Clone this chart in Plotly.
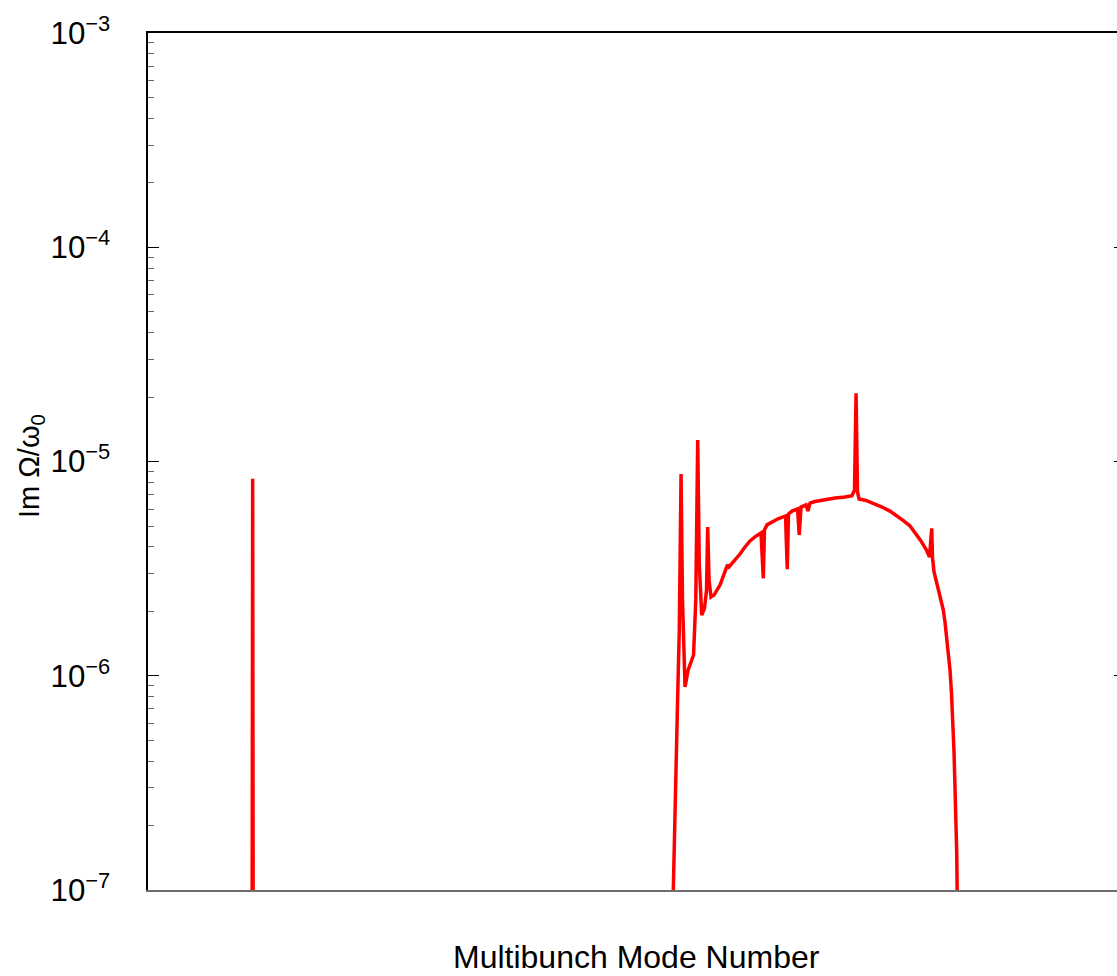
import plotly.graph_objects as go

# Multibunch mode number vs. growth rate Im(Omega)/omega0
mode_number = [
    107, 108, 109,
    541.4, 544.6, 546.6, 548.3, 550.1, 551.6, 554.2, 557.3, 561.1, 563.0,
    565.3, 567.3, 568.9, 571.4, 574.3, 576.4, 577.6, 579.0, 581.0, 584.1,
    590.3, 596.5, 598.0, 599.6, 605.8, 610.9, 616.1, 621.3, 626.4, 632.6,
    635.0, 636.2, 638.8, 644.0, 650.2, 657.9, 659.7, 661.0, 664.6, 670.3,
    672.1, 673.9, 679.1, 681.1, 683.2, 688.3, 698.7, 709.0, 719.3, 726.5,
    729.1, 730.7, 732.2, 733.8, 741.0, 748.2, 757.5, 765.7, 773.0, 780.2,
    786.4, 792.6, 797.7, 803.4, 806.5, 808.8, 809.6, 811.2, 813.2, 815.6,
    817.9, 820.7, 822.5, 824.2, 826.1, 827.7, 829.2, 830.5, 831.8, 832.8,
    833.9, 834.6, 835.4,
]
growth_rate = [
    1e-9, 8.3e-6, 1e-9,
    7.24e-8, 3.92e-7, 7.96e-7, 1.64e-6, 8.75e-6, 2.26e-6, 8.86e-7, 1.06e-6, 1.19e-6, 1.25e-6,
    2.26e-6, 1.26e-5, 3.36e-6, 1.92e-6, 2.07e-6, 2.51e-6, 4.94e-6, 2.80e-6, 2.33e-6, 2.38e-6,
    2.65e-6, 3.12e-6, 3.29e-6, 3.22e-6, 3.47e-6, 3.70e-6, 3.99e-6, 4.26e-6, 4.45e-6, 4.64e-6,
    2.85e-6, 4.79e-6, 5.06e-6, 5.23e-6, 5.40e-6, 5.57e-6, 3.14e-6, 5.69e-6, 5.87e-6, 6.00e-6,
    4.54e-6, 6.13e-6, 6.27e-6, 5.87e-6, 6.40e-6, 6.50e-6, 6.65e-6, 6.76e-6, 6.83e-6, 6.93e-6,
    7.36e-6, 2.08e-5, 7.21e-6, 6.68e-6, 6.58e-6, 6.40e-6, 6.13e-6, 5.87e-6, 5.57e-6, 5.27e-6,
    5.00e-6, 4.59e-6, 4.26e-6, 3.86e-6, 3.58e-6, 4.88e-6, 3.55e-6, 3.05e-6, 2.80e-6, 2.59e-6,
    2.33e-6, 2.03e-6, 1.78e-6, 1.52e-6, 1.29e-6, 1.06e-6, 8.30e-7, 6.21e-7, 4.41e-7, 3.03e-7,
    2.12e-7, 1.49e-7, 7.24e-8,
]

y_log_range = [-7, -3]
x_range = [0, 1000]

font = "Liberation Sans, Arial, sans-serif"

fig = go.Figure()
fig.add_trace(go.Scatter(
    x=mode_number, y=growth_rate, mode="lines",
    line=dict(color="#ff0000", width=3.5),
    showlegend=False, hoverinfo="skip",
))
# empty helper trace so the mirrored axes are drawn
fig.add_trace(go.Scatter(x=[], y=[], xaxis="x2", yaxis="y2", showlegend=False))

fig.update_layout(
    width=1117, height=976,
    margin=dict(l=148, r=0, t=33, b=86),
    paper_bgcolor="white", plot_bgcolor="white",
    font=dict(family=font, color="black", size=30),
    xaxis=dict(
        range=x_range, showgrid=False, zeroline=False,
        showline=True, linecolor="#6e6e6e", linewidth=1.5,
        ticks="", showticklabels=False,
    ),
    xaxis2=dict(
        range=x_range, overlaying="x", side="top", showgrid=False,
        zeroline=False, showline=True, linecolor="black", linewidth=1.5,
        ticks="", showticklabels=False,
    ),
    yaxis=dict(
        type="log", range=y_log_range, dtick=1, showgrid=False, zeroline=False,
        showline=True, linecolor="black", linewidth=1.5,
        ticks="inside", ticklen=11, tickwidth=1, tickcolor="black",
        exponentformat="power", showexponent="all",
        tickfont=dict(family=font, size=25, color="black"),
        ticklabelstandoff=31,
        minor=dict(ticks="inside", ticklen=6, tickwidth=1, tickcolor="#666666",
                   dtick="D1", showgrid=False),
    ),
    yaxis2=dict(
        type="log", range=y_log_range, dtick=1, overlaying="y", side="right",
        showgrid=False, zeroline=False, showline=False,
        ticks="inside", ticklen=3, tickwidth=1, tickcolor="black",
        showticklabels=False,
    ),
    annotations=[
        dict(text="Multibunch Mode Number", xref="paper", yref="paper",
             x=0.5046, y=-0.0782, xanchor="center", yanchor="middle",
             showarrow=False, font=dict(family=font, size=32, color="black")),
        dict(text="Im Ω/ω<sub>0</sub>", xref="paper", yref="paper",
             x=-0.1207, y=0.4947, xanchor="center", yanchor="middle",
             textangle=-90, showarrow=False,
             font=dict(family=font, size=29, color="black")),
    ],
)

fig.write_html("out.html")
